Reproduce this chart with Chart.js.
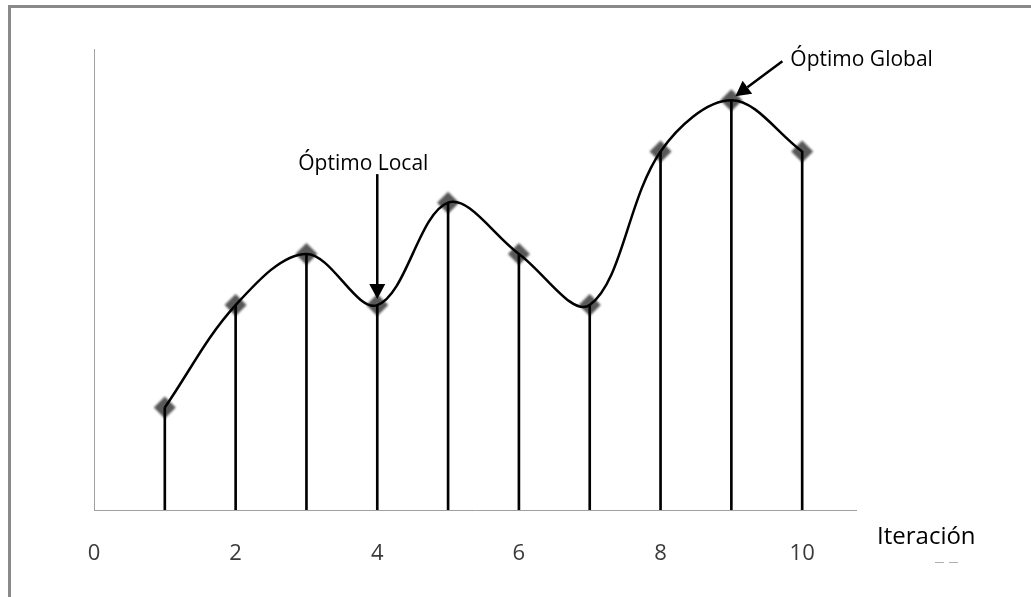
<!DOCTYPE html>
<html lang="es">
<head>
  <meta charset="UTF-8">
  <title>Óptimo local y global</title>
  <script src="https://cdn.jsdelivr.net/npm/chart.js"></script>
  <style>
    html, body { margin: 0; padding: 0; background: #fff; }
    #wrap { width: 1031px; height: 597px; }
  </style>
</head>
<body>
  <div id="wrap"><canvas id="grafico" width="1031" height="597"></canvas></div>

  <script>
    // Datos
    const iteraciones = [1, 2, 3, 4, 5, 6, 7, 8, 9, 10];
    const valores = [2, 4, 5, 4, 6, 5, 4, 7, 8, 7];
    const ticksX = [0, 2, 4, 6, 8, 10];
    const etiquetas = ['Óptimo Local', 'Óptimo Global'];
    const indicesOptimos = [3, 8];

    const puntos = iteraciones.map((x, i) => ({ x: x, y: valores[i] }));
    const fuente = '"Open Sans", "DejaVu Sans", sans-serif';

    function flecha(ctx, x0, y0, x1, y1) {
      const ang = Math.atan2(y1 - y0, x1 - x0);
      const largo = 15, ancho = 8;
      const bx = x1 - largo * Math.cos(ang), by = y1 - largo * Math.sin(ang);
      ctx.beginPath();
      ctx.moveTo(x0, y0);
      ctx.lineTo(bx, by);
      ctx.stroke();
      ctx.beginPath();
      ctx.moveTo(x1, y1);
      ctx.lineTo(bx + ancho * Math.sin(ang), by - ancho * Math.cos(ang));
      ctx.lineTo(bx - ancho * Math.sin(ang), by + ancho * Math.cos(ang));
      ctx.closePath();
      ctx.fill();
    }

    // Marco, anotaciones y flechas
    const decoracion = {
      id: 'decoracion',
      beforeDraw(chart) {
        const ctx = chart.ctx;
        ctx.save();
        ctx.fillStyle = '#8a8a8a';
        ctx.fillRect(8, 5, chart.width - 8, 3);
        ctx.fillRect(8, 5, 3, chart.height - 5);
        ctx.restore();
      },
      beforeDatasetDraw(chart, args) {
        if (args.index === 2) {
          chart.ctx.save();
          chart.ctx.filter = 'blur(1px)';
        }
      },
      afterDatasetDraw(chart, args) {
        if (args.index === 2) chart.ctx.restore();
      },
      afterDraw(chart) {
        const ctx = chart.ctx;
        const sx = chart.scales.x, sy = chart.scales.y;
        ctx.save();
        ctx.strokeStyle = '#000';
        ctx.fillStyle = '#000';
        ctx.lineWidth = 2.5;
        ctx.font = '21px ' + fuente;
        ctx.textBaseline = 'alphabetic';

        // Óptimo local
        let i = indicesOptimos[0];
        let px = sx.getPixelForValue(iteraciones[i]);
        let py = sy.getPixelForValue(valores[i]);
        flecha(ctx, px, py - 131, px, py - 6);
        ctx.fillText(etiquetas[0], px - 79, py - 135);

        // Óptimo global
        i = indicesOptimos[1];
        px = sx.getPixelForValue(iteraciones[i]);
        py = sy.getPixelForValue(valores[i]);
        flecha(ctx, px + 51, py - 39, px + 4, py - 4);
        ctx.fillText(etiquetas[1], px + 59, py - 34);

        // Título del eje x
        ctx.font = '24px ' + fuente;
        ctx.fillText('Iteración', sx.right + 21, sy.bottom + 34);
        ctx.fillStyle = '#b0b0b0';
        ctx.fillRect(sx.right + 79, sy.bottom + 52, 9, 1);
        ctx.fillRect(sx.right + 93, sy.bottom + 52, 9, 1);
        ctx.restore();
      }
    };

    const chart = new Chart(document.getElementById('grafico'), {
      type: 'line',
      data: {
        datasets: [
          {
            type: 'line',
            data: puntos,
            borderColor: '#000',
            borderWidth: 2.5,
            tension: 0.35,
            pointRadius: 0,
            fill: false,
            order: 1
          },
          {
            type: 'bar',
            data: puntos,
            backgroundColor: '#000',
            barThickness: 2,
            order: 2
          },
          {
            type: 'line',
            data: puntos,
            showLine: false,
            pointStyle: 'rectRot',
            pointRadius: 11,
            pointBackgroundColor: '#585858',
            pointBorderWidth: 0,
            order: 3
          }
        ]
      },
      options: {
        responsive: false,
        animation: false,
        layout: { padding: { left: 94, top: 49, right: 175, bottom: 0 } },
        plugins: { legend: { display: false }, tooltip: { enabled: false } },
        scales: {
          x: {
            type: 'linear',
            min: 0,
            max: 10.76,
            offset: false,
            afterFit(scale) { scale.height = 87; },
            afterBuildTicks(scale) { scale.ticks = ticksX.map(v => ({ value: v })); },
            grid: { display: false, drawTicks: false, offset: false },
            border: { display: true, color: '#a0a0a0', width: 1 },
            ticks: {
              padding: 31,
              color: '#3a3a3a',
              font: { family: fuente, size: 22 },
              maxRotation: 0
            }
          },
          y: {
            min: 0,
            max: 9,
            afterFit(scale) { scale.width = 0; },
            grid: { display: false, drawTicks: false },
            border: { display: true, color: '#a0a0a0', width: 1 },
            ticks: { display: false }
          }
        }
      },
      plugins: [decoracion]
    });
  </script>
</body>
</html>
